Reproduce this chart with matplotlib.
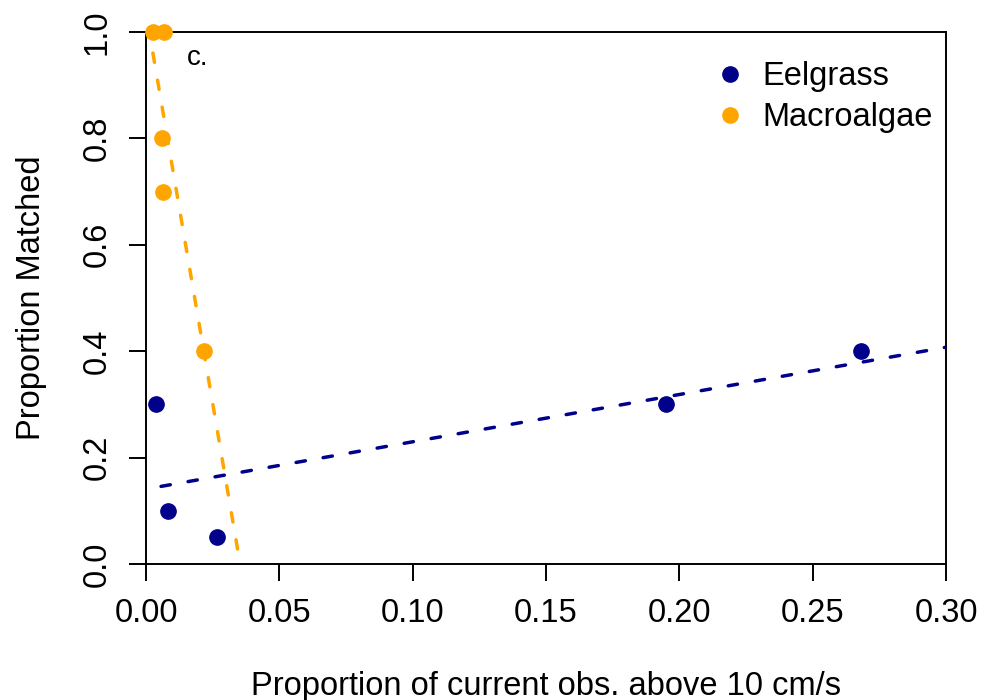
import matplotlib
matplotlib.use("Agg")
from matplotlib import pyplot as plt
from matplotlib.lines import Line2D
import numpy as np

plt.rcParams['font.family'] = ['Liberation Sans', 'DejaVu Sans']

# proportion of current observations above 10 cm/s vs proportion matched
eelgrass_x = [0.0037, 0.0083, 0.0266, 0.195, 0.268]
eelgrass_y = [0.3, 0.1, 0.05, 0.3, 0.4]
macro_x = [0.0026, 0.0068, 0.006, 0.0064, 0.0218]
macro_y = [1.0, 1.0, 0.8, 0.7, 0.4]

x_ticks = [0.00, 0.05, 0.10, 0.15, 0.20, 0.25, 0.30]
y_ticks = [0.0, 0.2, 0.4, 0.6, 0.8, 1.0]

eel_col = '#00008B'
mac_col = '#FFA500'
fs = 23.5


def fit_line(ax, x, y, color):
    # least squares fit, drawn across the whole panel
    slope, intercept = np.polyfit(x, y, 1)
    xs = np.array([-1.0, 1.0])
    ax.plot(xs, intercept + slope * xs, color=color, lw=2.5,
            dashes=(2.7, 5.2), dash_capstyle='round', zorder=2)


fig = plt.figure(figsize=(9.84, 7.0), dpi=100)
ax = fig.add_axes([0.1484, 0.1943, 0.8130, 0.76])

fit_line(ax, eelgrass_x, eelgrass_y, eel_col)
fit_line(ax, macro_x, macro_y, mac_col)

ax.plot(eelgrass_x, eelgrass_y, 'o', color=eel_col, ms=11, clip_on=False, zorder=3)
ax.plot(macro_x, macro_y, 'o', color=mac_col, ms=11, clip_on=False, zorder=3)

ax.set_xlim(0, 0.30)
ax.set_ylim(0, 1.0)
ax.set_xticks(x_ticks)
ax.set_xticklabels(['%.2f' % v for v in x_ticks])
ax.set_yticks(y_ticks)
ax.set_yticklabels(['%.1f' % v for v in y_ticks])

for s in ax.spines.values():
    s.set_linewidth(1.4)
    s.set_color('black')
ax.tick_params(direction='out', length=12, width=1.4, labelsize=fs)
ax.tick_params(axis='x', pad=12.5)
ax.tick_params(axis='y', pad=12, labelrotation=90)
for lab in ax.get_yticklabels():
    lab.set_va('center')

ax.set_xlabel('Proportion of current obs. above 10 cm/s', fontsize=fs, labelpad=30)
ax.set_ylabel('Proportion Matched', fontsize=fs, labelpad=25)

ax.text(0.0155, 0.951, 'c.', fontsize=20, va='center', ha='left')

handles = [
    Line2D([], [], marker='o', ls='none', color=eel_col, ms=11, label='Eelgrass'),
    Line2D([], [], marker='o', ls='none', color=mac_col, ms=11, label='Macroalgae'),
]
ax.legend(handles=handles, loc='upper left', bbox_to_anchor=(0.7096, 0.945),
          frameon=False, fontsize=fs, handlelength=1.0, handletextpad=0.5,
          labelspacing=0.3, borderpad=0, borderaxespad=0)

fig.savefig('out.png', dpi=100)
